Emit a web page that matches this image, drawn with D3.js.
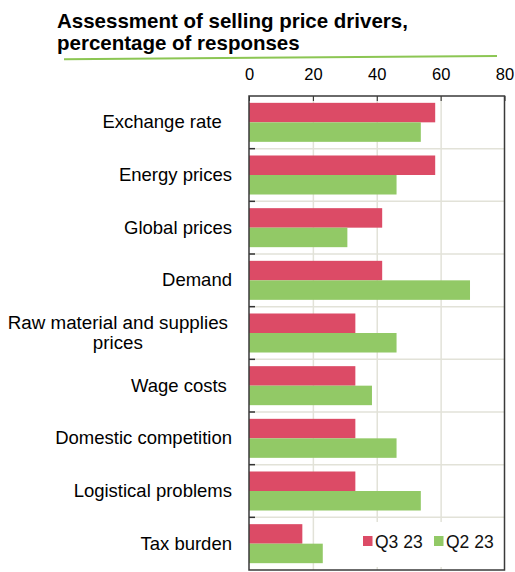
<!DOCTYPE html>
<html>
<head>
<meta charset="utf-8">
<script src="https://cdn.jsdelivr.net/npm/d3@7"></script>
<style>
  body { margin: 0; background: #fff; }
  svg { font-family: "Liberation Sans", Arial, sans-serif; }
</style>
</head>
<body>
<div class="chart"></div>
<script>
// data
var categories = ["Exchange rate  ", "Energy prices", "Global prices", "Demand",
  "Raw material and supplies|prices", "Wage costs ", "Domestic competition",
  "Logistical problems", "Tax burden"];
var q3Values = [58.3, 58.3, 41.7, 41.7, 33.3, 33.3, 33.3, 33.3, 16.7];
var q2Values = [53.8, 46.2, 30.8, 69.2, 46.2, 38.5, 46.2, 53.8, 23.1];
var seriesNames = ["Q3 23", "Q2 23"];
var xTicks = [0, 20, 40, 60, 80];

var colors = { "Q3 23": "#dc4b66", "Q2 23": "#92c966" };

var svgWidth = 515, svgHeight = 572;
var plot = { left: 249, right: 504.5, top: 96, bottom: 570 };

var svg = d3.select(".chart").append("svg")
  .attr("width", svgWidth)
  .attr("height", svgHeight);

// title
svg.append("text").attr("x", 57).attr("y", 27.5)
  .attr("font-size", 20.5).attr("font-weight", "bold").attr("fill", "#000")
  .text("Assessment of selling price drivers,");
svg.append("text").attr("x", 57).attr("y", 49.5)
  .attr("font-size", 20.5).attr("font-weight", "bold").attr("fill", "#000")
  .text("percentage of responses");
svg.append("line")
  .attr("x1", 64).attr("y1", 59.3).attr("x2", 497).attr("y2", 56)
  .attr("stroke", "#8cc653").attr("stroke-width", 2);

// scales
var x = d3.scaleLinear().domain([0, 80]).range([plot.left, plot.right]);
var y = d3.scaleBand().domain(categories).range([plot.top, plot.bottom]).padding(0);
var ySub = d3.scaleBand().domain(seriesNames).range([0, y.bandwidth()])
  .paddingInner(0).paddingOuter(0.35);

// grid
svg.append("g")
  .attr("transform", `translate(0, ${plot.top})`)
  .call(d3.axisBottom(x).tickValues([20, 40, 60]).tickSize(plot.bottom - plot.top).tickFormat(""))
  .call(g => g.select(".domain").remove())
  .selectAll("line").attr("stroke", "#e2e2d8").attr("stroke-width", 1.5);

svg.append("g").selectAll("line")
  .data(categories.slice(1))
  .enter().append("line")
  .attr("x1", plot.left).attr("x2", plot.right)
  .attr("y1", d => y(d)).attr("y2", d => y(d))
  .attr("stroke", "#e2e2d8").attr("stroke-width", 1.5);

// bars
var rows = categories.map((c, i) => ({ cat: c, values: [
  { name: seriesNames[0], value: q3Values[i] },
  { name: seriesNames[1], value: q2Values[i] }] }));

var barGroups = svg.append("g").selectAll("g")
  .data(rows)
  .enter().append("g")
  .attr("transform", d => `translate(0, ${y(d.cat)})`);

barGroups.selectAll("rect")
  .data(d => d.values)
  .enter().append("rect")
  .attr("x", x(0))
  .attr("y", d => ySub(d.name))
  .attr("width", d => x(d.value) - x(0))
  .attr("height", ySub.bandwidth())
  .attr("fill", d => colors[d.name]);

// legend
var legend = svg.append("g");
legend.append("rect").attr("x", 359).attr("y", 522).attr("width", 143).attr("height", 45)
  .attr("fill", "#fff");
var legendX = [363, 434];
seriesNames.forEach(function (s, i) {
  legend.append("rect").attr("x", legendX[i]).attr("y", 536)
    .attr("width", 9.5).attr("height", 10).attr("fill", colors[s]);
  legend.append("text").attr("x", legendX[i] + 12).attr("y", 547.5)
    .attr("font-size", 17.5).attr("fill", "#111").text(s);
});

// top axis
svg.append("g")
  .attr("transform", `translate(0, ${plot.top})`)
  .call(d3.axisTop(x).tickValues(xTicks).tickSize(-5).tickPadding(16.5))
  .call(g => g.select(".domain").remove())
  .call(g => g.selectAll("line").attr("stroke", "#222"))
  .call(g => g.selectAll("text").attr("font-size", 16.5).attr("fill", "#000")
    .attr("font-family", "Liberation Sans, Arial, sans-serif"));

// left ticks at the category boundaries
svg.append("g").selectAll("line")
  .data(categories.slice(1))
  .enter().append("line")
  .attr("x1", plot.left).attr("x2", plot.left + 6)
  .attr("y1", d => y(d)).attr("y2", d => y(d))
  .attr("stroke", "#333").attr("stroke-width", 1.5);

// plot frame
svg.append("rect")
  .attr("x", plot.left).attr("y", plot.top)
  .attr("width", plot.right - plot.left).attr("height", plot.bottom - plot.top)
  .attr("fill", "none").attr("stroke", "#3a3a3a").attr("stroke-width", 1.5);

// category labels
var labelRight = 232;
categories.forEach(function (c) {
  var lines = c.split("|");
  var mid = y(c) + y.bandwidth() / 2;
  var t = svg.append("text")
    .attr("font-size", 18.5).attr("fill", "#000")
    .style("white-space", "pre");
  if (lines.length === 1) {
    t.attr("x", labelRight).attr("y", mid).attr("dy", "0.33em")
      .attr("text-anchor", "end").text(c);
  } else {
    // wrapped label: centred block, a little left of the single ones
    t.attr("font-size", 18.8);
    var spans = lines.map((l, i) => t.append("tspan").text(l));
    var w = d3.max(spans, s => s.node().getComputedTextLength());
    spans.forEach(function (s, i) {
      s.attr("x", labelRight - 4 - w / 2).attr("text-anchor", "middle")
        .attr("y", mid + (i - (lines.length - 1) / 2) * 20).attr("dy", "0.33em");
    });
  }
});
</script>
</body>
</html>
